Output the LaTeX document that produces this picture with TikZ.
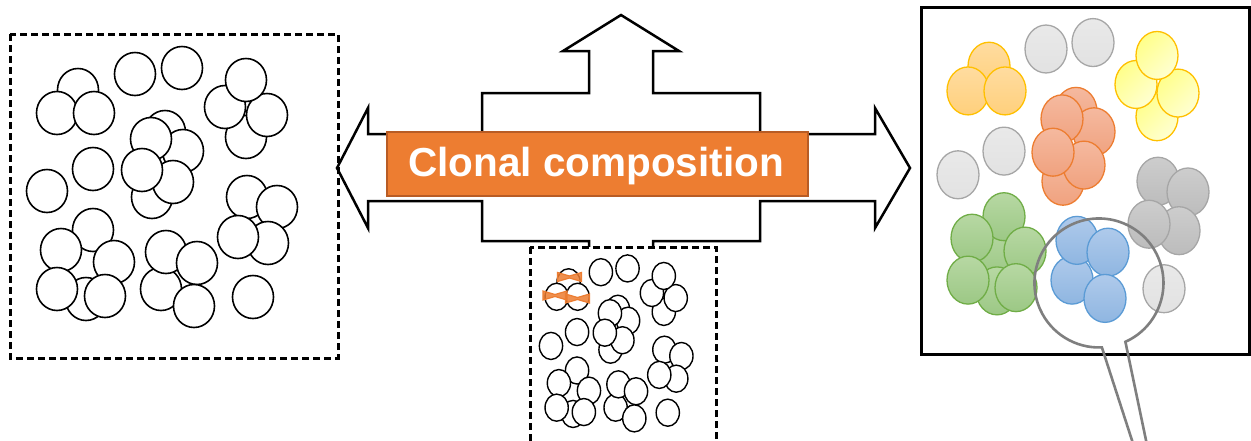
\documentclass[tikz,border=0pt]{standalone}
\usepackage{fontspec}
\newfontfamily\headfont{Liberation Sans}

\definecolor{boxorange}{HTML}{ED7D31}
\definecolor{boxedge}{HTML}{B85C25}
\definecolor{gold}{HTML}{FFC000}
\definecolor{apricotA}{HTML}{FFDCA0}
\definecolor{apricotB}{HTML}{FFD07C}
\definecolor{paleA}{HTML}{E9E9E9}
\definecolor{paleB}{HTML}{E2E2E2}
\definecolor{paleedge}{HTML}{A6A6A6}
\definecolor{lemonA}{HTML}{FFFF8A}
\definecolor{lemonB}{HTML}{FFFFD2}
\definecolor{salmonA}{HTML}{F5B99F}
\definecolor{salmonB}{HTML}{F0A27F}
\definecolor{steelA}{HTML}{CDCDCD}
\definecolor{steelB}{HTML}{BCBCBC}
\definecolor{leafA}{HTML}{B7D8A3}
\definecolor{leafB}{HTML}{9CC885}
\definecolor{leafedge}{HTML}{70AD47}
\definecolor{skyA}{HTML}{AFCAEB}
\definecolor{skyB}{HTML}{8FB6E1}
\definecolor{skyedge}{HTML}{5B9BD5}
\definecolor{lensgrey}{HTML}{7F7F7F}

% cell centres of one sample: x/y/clone
\def\cellist{78/90/o, 57/113/o, 94/113/o,
  135/74/g, 182/68/g,
  246/137/y, 225/107/y, 267/115/y, 246/80/y,
  165/132/s, 183/151/s, 152/197/s, 151/139/s, 173/182/s, 142/170/s,
  93/169/g, 47/191/g,
  247/197/d, 277/207/d, 268/243/d, 238/237/d,
  86/262/h, 93/230/gr, 61/250/gr, 114/262/gr, 86/299/gr, 57/289/gr, 105/296/gr,
  161/289/b, 166/252/b, 197/263/b, 194/306/b,
  253/297/g}

\newcommand\drawcells[2]{%
  \foreach \px/\py/\cl in \cellist {
    \tikzset{thiscell/.style/.expanded={cell \cl}}
    \path[thiscell] (\px,\py) ellipse[x radius=#1, y radius=#2];
  }}

\newcommand\tiemark[2]{%
  \path[tiestyle] (#1-12,#2-4.5) -- (#1,#2-1) -- (#1+12,#2-4.5)
    -- (#1+12,#2+4.5) -- (#1,#2+1) -- (#1-12,#2+4.5) -- cycle;}

\begin{document}
\begin{tikzpicture}[x=1pt,y=-1pt,
  bigarrow/.style={draw=black, fill=white, line width=2.5pt, line join=miter},
  dashbox/.style={draw=black, line width=3pt, dash pattern=on 7pt off 4pt},
  solidbox/.style={draw=black, line width=3pt},
  plaincell/.style={draw=black, fill=white, line width=1.6pt},
  tiestyle/.style={fill=boxorange, draw=boxorange, line width=1.2pt, fill opacity=0.85},
  obox/.style={fill=boxorange, draw=boxedge, line width=1.6pt,
    minimum width=421pt, minimum height=64pt, inner sep=0pt},
  otext/.style={text=white, font=\headfont\bfseries\fontsize{40.5}{48}\selectfont,
    inner sep=0pt, text height=28.6pt, text depth=0pt},
  lens/.style={draw=lensgrey, line width=2.6pt, line join=miter}]

\useasboundingbox (0,0) rectangle (1251,440);
\clip (0,0) rectangle (1251,440);

% four-way arrow behind the title
\draw[bigarrow] (621,15) -- (679,51) -- (653,51) -- (653,93) -- (760,93)
  -- (760,134) -- (875,134) -- (875,108) -- (910,168) -- (875,228)
  -- (875,201) -- (760,201) -- (760,241) -- (653,241) -- (653,283)
  -- (679,283) -- (621,320) -- (563,283) -- (589,283) -- (589,241)
  -- (482,241) -- (482,201) -- (368,201) -- (368,228) -- (337,168)
  -- (368,108) -- (368,134) -- (482,134) -- (482,93) -- (589,93)
  -- (589,51) -- (563,51) -- cycle;

\node[obox] (title) at (597.5,164) {};
\node[otext] (titletext) at (596,162) {Clonal composition};

% left sample
\draw[dashbox] (10,34) rectangle (338,358);
\begin{scope}
  \tikzset{cell o/.style={plaincell}, cell g/.style={plaincell},
    cell y/.style={plaincell}, cell s/.style={plaincell},
    cell d/.style={plaincell}, cell gr/.style={plaincell},
    cell b/.style={plaincell}, cell h/.style={}}
  \drawcells{20.5}{21.5}
\end{scope}

% lower sample
\draw[dashbox, fill=white] (530,247) rectangle (716,470);
\begin{scope}[shift={(530,247)}, xscale=0.567, yscale=0.63, shift={(-10,-34)}]
  \tikzset{cell o/.style={plaincell, line width=1.4pt}, cell g/.style={plaincell, line width=1.4pt},
    cell y/.style={plaincell, line width=1.4pt}, cell s/.style={plaincell, line width=1.4pt},
    cell d/.style={plaincell, line width=1.4pt}, cell gr/.style={plaincell, line width=1.4pt},
    cell b/.style={plaincell, line width=1.4pt}, cell h/.style={}}
  \drawcells{20.5}{21.5}
\end{scope}
\tiemark{569.5}{277}
\tiemark{555}{295.5}
\tiemark{577.5}{298.5}

% right sample, coloured by clone
\draw[solidbox] (921,7) rectangle (1249.5,354);
\begin{scope}[shift={(921,6)}, yscale=1.075, shift={(-10,-34)}]
  \tikzset{
    cell o/.style={draw=gold, line width=1.3pt, top color=apricotA, bottom color=apricotB},
    cell g/.style={draw=paleedge, line width=1.3pt, top color=paleA, bottom color=paleB},
    cell y/.style={draw=gold, line width=1.3pt, top color=lemonA, bottom color=lemonB, shading angle=45},
    cell s/.style={draw=boxorange, line width=1.3pt, top color=salmonA, bottom color=salmonB},
    cell d/.style={draw=paleedge, line width=1.3pt, top color=steelA, bottom color=steelB},
    cell gr/.style={draw=leafedge, line width=1.3pt, top color=leafA, bottom color=leafB},
    cell h/.style={draw=leafedge, line width=1.3pt, top color=leafA, bottom color=leafB},
    cell b/.style={draw=skyedge, line width=1.3pt, top color=skyA, bottom color=skyB}}
  \drawcells{21}{22.3}
\end{scope}

% magnifying glass over the blue clone
\coordinate (lensR) at (1147,445);
\coordinate (lensL) at (1133.5,445);
\draw[lens] (lensR) -- (1125.4,341.8) arc[start angle=65.8, end angle=-272.6, radius=64.5] -- (lensL);
\end{tikzpicture}
\end{document}
